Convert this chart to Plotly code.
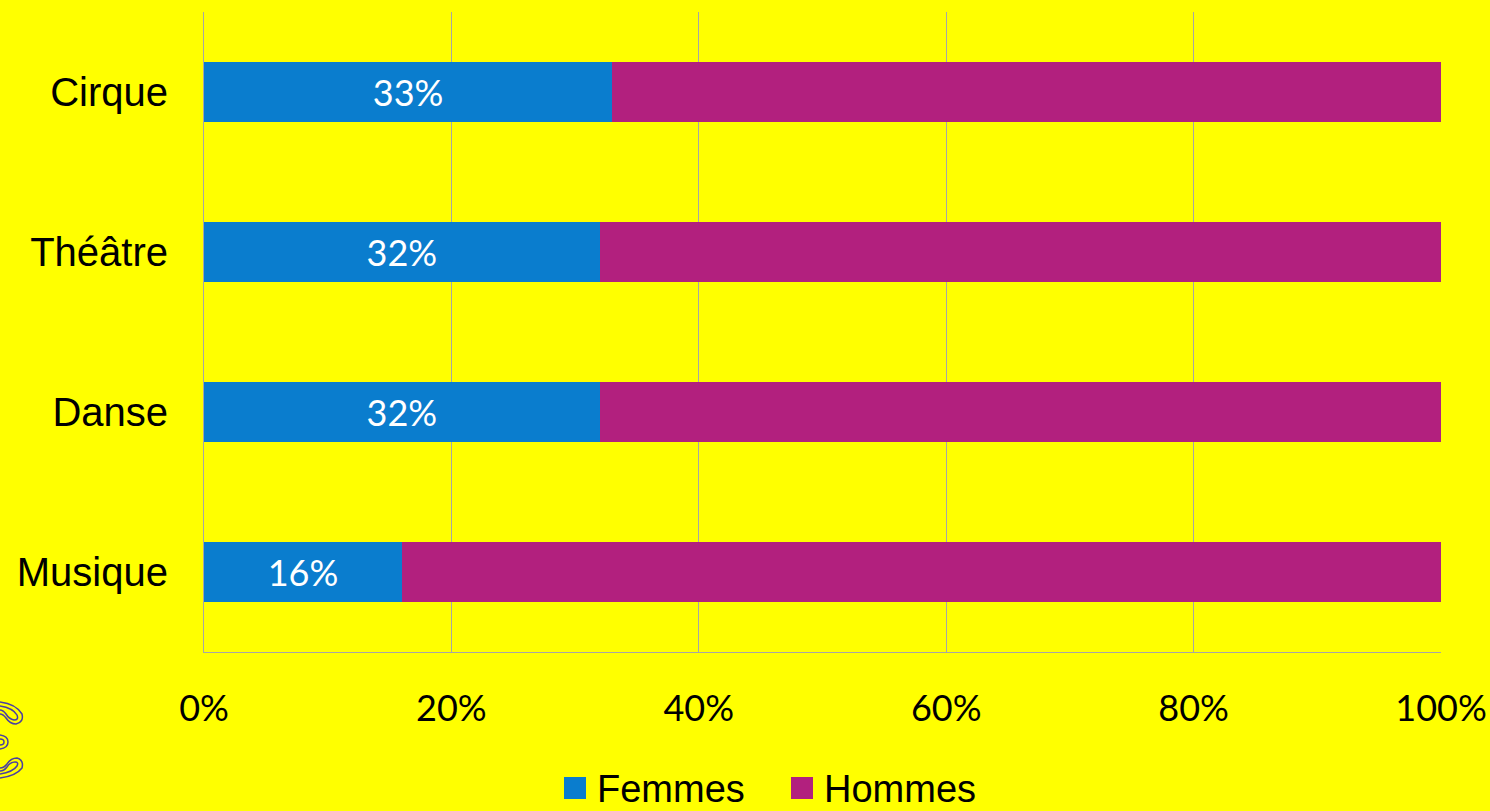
import plotly.graph_objects as go

categories = ["Musique", "Danse", "Théâtre", "Cirque"]
femmes = [16, 32, 32, 33]
hommes = [84, 68, 68, 67]
femmes_labels = ["16%", "32%", "32%", "33%"]
tick_vals = [0, 20, 40, 60, 80, 100]
tick_text = ["0%", "20%", "40%", "60%", "80%", "100%"]
series_names = ["Femmes", "Hommes"]

BG = "#FFFF00"
BLUE = "#0A7DCE"
MAGENTA = "#B2207E"

W, H = 1490, 811
ML, MR, MT, MB = 204, 49, 12, 159
PW, PH = W - ML - MR, H - MT - MB


def px(x):
    return (x - ML) / PW


def py(y):
    return (H - MB - y) / PH


fig = go.Figure()
fig.add_trace(go.Bar(
    y=categories, x=femmes, orientation="h", name=series_names[0], showlegend=False,
    marker=dict(color=BLUE, line=dict(width=0)),
    text=femmes_labels, textposition="inside", insidetextanchor="middle",
    textfont=dict(family="Lato, sans-serif", size=36, color="white"),
    textangle=0,
))
fig.add_trace(go.Bar(
    y=categories, x=hommes, orientation="h", name=series_names[1], showlegend=False,
    marker=dict(color=MAGENTA, line=dict(width=0)),
))

# manual legend (large square swatches)
shapes = []
annotations = []
for (sx, tx), nm, col in zip(((564, 595), (791, 822)), series_names, (BLUE, MAGENTA)):
    shapes.append(dict(type="rect", xref="paper", yref="paper",
                       x0=px(sx), x1=px(sx + 22), y0=py(799), y1=py(777),
                       fillcolor=col, line=dict(width=0)))
    annotations.append(dict(text=nm, xref="paper", yref="paper", x=px(tx), y=py(789),
                            xanchor="left", yanchor="middle", showarrow=False,
                            font=dict(family="Liberation Sans, Arial, sans-serif",
                                      size=38, color="black")))

# partial logo at the left edge (decoration)
logo = "#4B3FA0"
logo_paths = [
    "M 0 702 Q 16 704 22 714 Q 24 722 16 724 Q 10 724 6 718 Q 3 714 0 714",
    "M 0 706 Q 13 708 17 715 Q 19 720 14 720 Q 9 719 6 714 Q 3 710 0 710",
    "M 0 735 Q 8 736 8 742 Q 8 748 0 749",
    "M 0 739 Q 4 739 4 742 Q 4 745 0 745",
    "M 0 778 Q 16 776 22 768 Q 24 760 17 758 Q 11 758 7 764 Q 4 768 0 768",
    "M 0 774 Q 13 772 17 766 Q 19 762 15 762 Q 10 762 7 767 Q 4 771 0 771",
]


def conv(path):
    toks = path.split()
    out = []
    i = 0
    while i < len(toks):
        t = toks[i]
        if t.isalpha():
            out.append(t)
            i += 1
        else:
            x, y = float(toks[i]), float(toks[i + 1])
            out.append(f"{px(x):.5f},{py(y):.5f}")
            i += 2
    return " ".join(out)


for p in logo_paths:
    shapes.append(dict(type="path", xref="paper", yref="paper", path=conv(p),
                       line=dict(color=logo, width=1.5)))

fig.update_layout(
    barmode="stack",
    bargap=0.63,
    width=W, height=H,
    paper_bgcolor=BG, plot_bgcolor=BG,
    margin=dict(l=ML, r=MR, t=MT, b=MB, autoexpand=False),
    showlegend=False,
    shapes=shapes,
    annotations=annotations,
)
fig.update_xaxes(
    range=[0, 100], tickvals=tick_vals, ticktext=tick_text,
    showgrid=True, gridcolor="#A6A6A6", gridwidth=1,
    showline=True, linecolor="#A6A6A6", linewidth=1,
    zeroline=False, ticks="", ticklabelstandoff=25, automargin=False,
    tickfont=dict(family="Lato, sans-serif", size=36, color="black"),
    fixedrange=True,
)
fig.update_yaxes(
    categoryorder="array", categoryarray=categories,
    showgrid=False, showline=True, linecolor="#A6A6A6", linewidth=1,
    ticks="", ticklabelstandoff=27, automargin=False,
    tickfont=dict(family="Liberation Sans, Arial, sans-serif", size=40, color="black"),
    fixedrange=True,
)

fig.write_html(
    "out.html",
    config={"displayModeBar": False},
    post_script="document.body.style.margin='0';document.body.style.background='#FFFF00';",
)
